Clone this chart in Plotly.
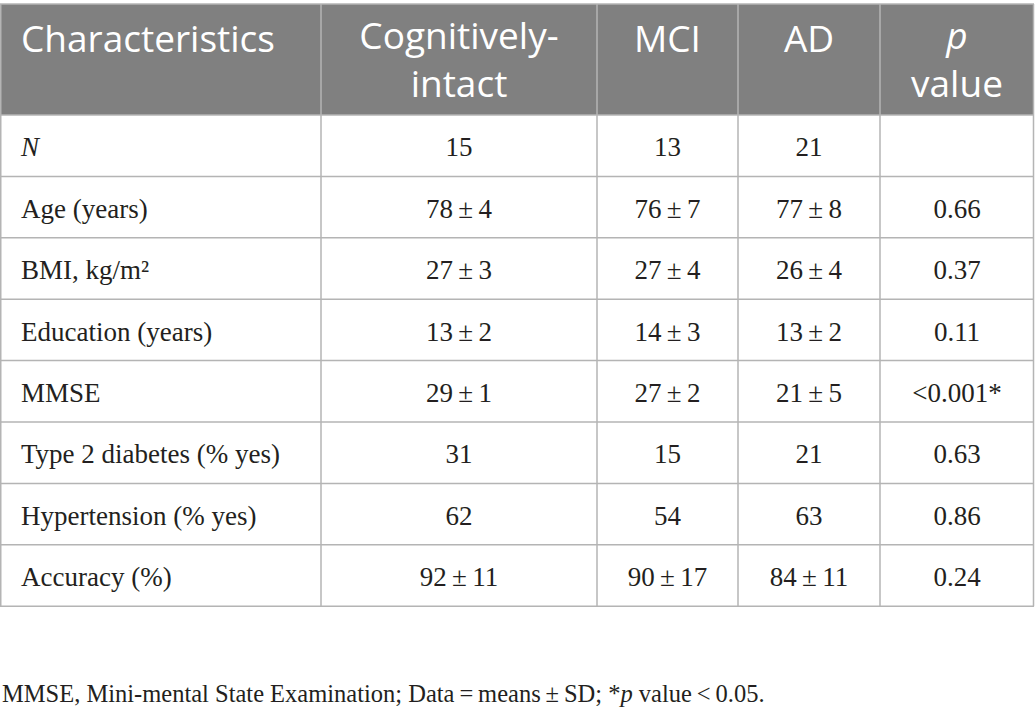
import plotly.graph_objects as go

# ---------------- data ----------------
PM = "\u2009±\u2009"
header_labels = ["Characteristics", "Cognitively-<br>intact", "MCI", "AD", "<i>p</i><br>value"]
characteristics = ["<i>N</i>", "Age (years)", "BMI, kg/m²", "Education (years)", "MMSE",
                   "Type 2 diabetes (% yes)", "Hypertension (% yes)", "Accuracy (%)"]
cognitively_intact = ["15", "78" + PM + "4", "27" + PM + "3", "13" + PM + "2", "29" + PM + "1", "31", "62", "92" + PM + "11"]
mci = ["13", "76" + PM + "7", "27" + PM + "4", "14" + PM + "3", "27" + PM + "2", "15", "54", "90" + PM + "17"]
ad = ["21", "77" + PM + "8", "26" + PM + "4", "13" + PM + "2", "21" + PM + "5", "21", "63", "84" + PM + "11"]
p_values = ["", "0.66", "0.37", "0.11", "&lt;0.001*", "0.63", "0.86", "0.24"]
footnote = "MMSE, Mini-mental State Examination; Data\u2009=\u2009means\u2009±\u2009SD; *<i>p</i> value\u2009&lt;\u20090.05."

# ---------------- layout constants ----------------
W, H = 1035, 711
COL_W = [321, 276, 141, 142, 154]
TOP = 4
HEADER_H = 111
ROW_H = 61.4
LEFT_PAD = 21
GRID = "#b4b4b4"
HEAD_BG = "#808080"
TXT = "#231f20"
HEAD_FONT = dict(family="Open Sans", size=37, color="white")
BODY_FONT = dict(family="Liberation Serif", size=27, color=TXT)

edges = [0]
for w in COL_W:
    edges.append(edges[-1] + w)
centers = [(edges[i] + edges[i + 1]) / 2 for i in range(len(COL_W))]
n_rows = len(characteristics)
row_edges = [TOP + HEADER_H + ROW_H * i for i in range(n_rows + 1)]
row_mid = [(row_edges[i] + row_edges[i + 1]) / 2 + 4 for i in range(n_rows)]
bottom = row_edges[-1]

fig = go.Figure()

shapes = []
shapes.append(dict(type="rect", x0=edges[0], x1=edges[-1], y0=TOP, y1=TOP + HEADER_H,
                   fillcolor=HEAD_BG, line=dict(width=0), layer="below"))
for yv in [TOP] + row_edges:
    shapes.append(dict(type="line", x0=edges[0], x1=edges[-1], y0=yv, y1=yv,
                       line=dict(color=GRID, width=1.5)))
for xv in edges:
    xx = min(max(xv, 0.75), W - 1.5)
    shapes.append(dict(type="line", x0=xx, x1=xx, y0=TOP, y1=bottom,
                       line=dict(color=GRID, width=1.5)))

# header text
head_single = TOP + 39
head_double = TOP + 60
fig.add_trace(go.Scatter(x=[edges[0] + LEFT_PAD], y=[head_single], text=[header_labels[0]],
                         mode="text", textposition="middle right", textfont=HEAD_FONT,
                         hoverinfo="skip", showlegend=False))
fig.add_trace(go.Scatter(x=centers[1:],
                         y=[head_double if "<br>" in t else head_single for t in header_labels[1:]],
                         text=header_labels[1:],
                         mode="text", textposition="middle center", textfont=HEAD_FONT,
                         hoverinfo="skip", showlegend=False))

# body text
fig.add_trace(go.Scatter(x=[edges[0] + LEFT_PAD] * n_rows, y=row_mid, text=characteristics,
                         mode="text", textposition="middle right", textfont=BODY_FONT,
                         hoverinfo="skip", showlegend=False))
for ci, col in enumerate([cognitively_intact, mci, ad, p_values], start=1):
    fig.add_trace(go.Scatter(x=[centers[ci]] * n_rows, y=row_mid, text=col,
                             mode="text", textposition="middle center", textfont=BODY_FONT,
                             hoverinfo="skip", showlegend=False))

fig.add_annotation(
    text=footnote, xref="x", yref="y", x=0, y=693,
    xanchor="left", yanchor="middle", showarrow=False,
    font=dict(family="Liberation Serif", size=24.5, color=TXT),
)

fig.update_layout(
    width=W, height=H, margin=dict(l=0, r=0, t=0, b=0),
    paper_bgcolor="white", plot_bgcolor="white", shapes=shapes,
    xaxis=dict(range=[0, W], visible=False, fixedrange=True),
    yaxis=dict(range=[H, 0], visible=False, fixedrange=True),
)

fig.write_html("out.html", config={"displayModeBar": False},
               post_script="document.body.style.margin='0px';")
